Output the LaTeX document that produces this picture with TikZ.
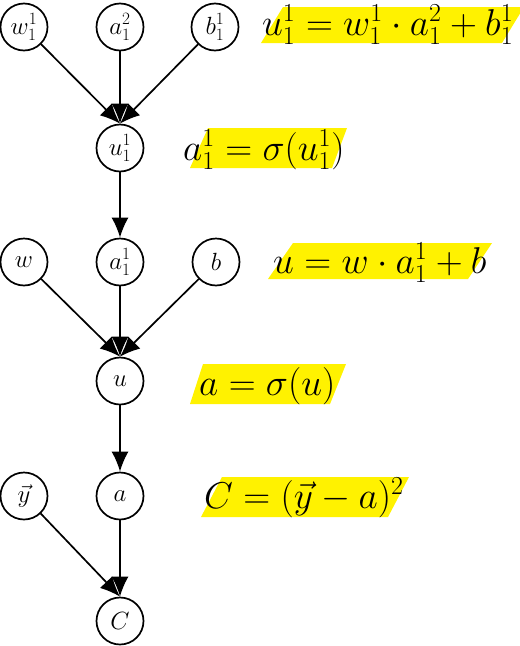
\documentclass[tikz,border=0pt]{standalone}
\usepackage{graphicx}
\usetikzlibrary{arrows.meta}
\definecolor{hlyellow}{RGB}{255,242,0}
\newcommand{\bigeq}[1]{\scalebox{1.5}{$#1$}}
\begin{document}
\begin{tikzpicture}[x=1pt,y=-1pt,
  nd/.style={circle,draw,line width=1.7pt,minimum size=47pt,inner sep=0pt,font=\fontsize{24}{28}\selectfont},
  ar/.style={line width=1.7pt,-{Latex[length=20pt,width=17pt]}},
  eq/.style={anchor=base west,inner sep=0pt,font=\fontsize{24}{28}\selectfont},
  hl/.style={fill=hlyellow}]
\useasboundingbox (0,0) rectangle (520,646);
% highlights
\fill[hl] (261,43) -- (283,7) -- (524,7) -- (502,43) -- cycle;
\fill[hl] (190,168) -- (208,128) -- (347,128) -- (332,168) -- cycle;
\fill[hl] (268,279) -- (293,243) -- (492,243) -- (468,279) -- cycle;
\fill[hl] (190,404) -- (203,364) -- (346,364) -- (330,404) -- cycle;
\fill[hl] (201,517) -- (222,477) -- (409,477) -- (388,517) -- cycle;
% nodes
\node[nd] (w11) at (24,27) {$w_1^1$};
\node[nd] (a12) at (120,27) {$a_1^2$};
\node[nd] (b11) at (215,27) {$b_1^1$};
\node[nd] (u11) at (120,148) {$u_1^1$};
\node[nd] (w) at (24,262) {$w$};
\node[nd] (a11) at (120,262) {$a_1^1$};
\node[nd] (b) at (216,262) {$b$};
\node[nd] (u) at (120,381) {$u$};
\node[nd] (y) at (24,496) {$\vec{y}$};
\node[nd] (a) at (120,496) {$a$};
\node[nd] (C) at (120,621) {$C$};
% connectors
\draw[ar] (w11) -- (u11.north);
\draw[ar] (a12) -- (u11.north);
\draw[ar] (b11) -- (u11.north);
\draw[ar] (u11) -- (a11.north);
\draw[ar] (w) -- (u.north);
\draw[ar] (a11) -- (u.north);
\draw[ar] (b) -- (u.north);
\draw[ar] (u) -- (a.north);
\draw[ar] (y) -- (C.north);
\draw[ar] (a) -- (C.north);
% equations
\node[eq] (e1) at (262,35) {\bigeq{u_1^1=w_1^1\cdot a_1^2+b_1^1}};
\node[eq] (e2) at (183,160) {\bigeq{a_1^1=\sigma(u_1^1)}};
\node[eq] (e3) at (273,273) {\bigeq{u=w\cdot a_1^1+b}};
\node[eq] (e4) at (199,395) {\bigeq{a=\sigma(u)}};
\node[eq] (e5) at (204,508) {\bigeq{C=(\vec{y}-a)^2}};
\end{tikzpicture}
\end{document}
